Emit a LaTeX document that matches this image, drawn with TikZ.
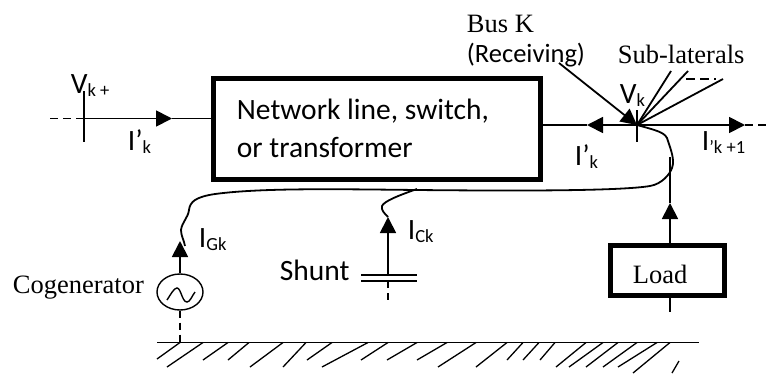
\documentclass[tikz,border=0pt]{standalone}
\usepackage{fontspec}
\setmainfont{Carlito}
\newfontfamily\timesfont{Liberation Serif}
\usetikzlibrary{arrows.meta,shapes.geometric}
\newcommand{\subtxt}[1]{\raisebox{-3pt}{\fontsize{18.5}{18.5}\selectfont #1}}

\begin{document}
\begin{tikzpicture}[x=1pt,y=-1pt,line width=1.8pt,>={Triangle[length=16pt,width=16pt]},
    box/.style={draw=black,line width=5pt,inner sep=0pt,rectangle},
    lbl/.style={anchor=base west,inner sep=0pt,font=\fontsize{29.5}{29.5}\selectfont},
    serif/.style={anchor=base west,inner sep=0pt,font=\timesfont\fontsize{26.5}{26.5}\selectfont}]
                \useasboundingbox (0,0) rectangle (773,373);
                % boxes and sources
                \node[box,minimum width=327pt,minimum height=101pt](Line)at(377, 129){};
                \node[box,minimum width=114pt,minimum height=50pt](Load)at(667.5, 270.5){};
                \node[draw=black,ellipse,line width=1.4pt,minimum width=46pt,minimum height=36pt,inner sep=0pt](Gen)at(180, 292){};
                % text
                \node[lbl](LineText)at(236, 119){Network line, switch,};
                \node[lbl](LineText2)at(236, 157){or transformer};
                \node[serif](LoadText)at(632, 283){Load};
                \node[serif](GenText)at(12, 293){Cogenerator};
                \node[lbl](ShuntText)at(279, 280){Shunt};
                \node[serif](BusText)at(466, 32){Bus K};
                \node[lbl,font=\fontsize{26.5}{26.5}\selectfont](RecvText)at(466, 62){(Receiving)};
                \node[serif](SubText)at(617, 63){Sub-laterals};
                \node[lbl](VkpText)at(70, 93){V\subtxt{k +}};
                \node[lbl](VkText)at(619, 103){V\subtxt{k}};
                \node[lbl](IkLeft)at(127, 150){I’\subtxt{k}};
                \node[lbl](IkRight)at(574, 165){I’\subtxt{k}};
                \node[lbl](IkNext)at(701, 150){I\subtxt{’k +1}};
                \node[lbl](IGk)at(198, 247){I\subtxt{Gk}};
                \node[lbl](ICk)at(407, 239){I\subtxt{Ck}};
                % bus points
                \coordinate(BusA)at(84, 118.5);
                \coordinate(BusATop)at(84, 91);
                \coordinate(BusABot)at(84, 142);
                \coordinate(DashA)at(50, 118.5);
                \coordinate(TipA)at(172, 118.5);
                \coordinate(BusK)at(637, 125);
                \coordinate(BusKTop)at(637, 110);
                \coordinate(BusKBot)at(637, 142);
                \coordinate(TipB)at(587, 125);
                \coordinate(TipC)at(745, 125);
                \coordinate(DashC)at(770, 125);
                \coordinate(BusFrom)at(559, 63);
                \coordinate(Sub1)at(671, 71);
                \coordinate(Sub2)at(688, 71);
                \coordinate(Sub3)at(723, 79);
                \coordinate(SubDash1)at(686, 79);
                \coordinate(SubDash2)at(716, 79);
                \coordinate(LoadIn)at(670, 157);
                \coordinate(LoadTip)at(670, 203);
                \coordinate(LoadBot)at(670, 312);
                \coordinate(GenTip)at(180, 241);
                \coordinate(ShuntTip)at(388, 217);
                \coordinate(ShuntUp)at(388, 275);
                \coordinate(ShuntDown)at(388, 281);
                \coordinate(ShuntEnd)at(388, 302);
                \coordinate(Plate1L)at(361, 275);
                \coordinate(Plate1R)at(417, 275);
                \coordinate(Plate2L)at(361, 281);
                \coordinate(Plate2R)at(417, 281);
                \coordinate(GndL)at(157, 342.5);
                \coordinate(GndR)at(699, 342.5);
                \coordinate(GenGnd)at(180, 342.5);
                \coordinate(WireEnd)at(185, 246);
                \coordinate(WireJoin)at(417, 189);
                % connectors
                \draw[dashed,dash pattern=on 8pt off 5pt](DashA)--(BusA);
                \draw(BusATop)--(BusABot);
                \draw[->](BusA)--(TipA);
                \draw(TipA)--(Line.west |- TipA);
                \draw(BusKTop)--(BusKBot);
                \draw[->](BusK)--(TipB);
                \draw(TipB)--(Line.east |- TipB);
                \draw[->](BusK)--(TipC);
                \draw[dashed,dash pattern=on 8pt off 5pt](TipC)--(DashC);
                \draw[->](BusFrom)--(BusK);
                \draw(BusK)--(Sub1);
                \draw(BusK)--(Sub2);
                \draw(BusK)--(Sub3);
                \draw[dashed,dash pattern=on 9pt off 5pt](SubDash1)--(SubDash2);
                \draw(LoadTip)--(LoadIn);
                \draw[->](Load.north -| LoadTip)--(LoadTip);
                \draw(Load.south -| LoadBot)--(LoadBot);
                \draw[->](Gen.north)--(GenTip);
                \draw[dashed,dash pattern=on 7pt off 5pt](Gen.south)--(GenGnd);
                \draw[->](ShuntUp)--(ShuntTip);
                \draw[dashed,dash pattern=on 7pt off 5pt](ShuntDown)--(ShuntEnd);
                \draw(Plate1L)--(Plate1R);
                \draw(Plate2L)--(Plate2R);
                \draw(GndL)--(GndR);
                % wires
                \draw(BusK) .. controls (655,130) and (664,132) .. (667,138)
                    .. controls (671,150) and (675,160) .. (672,168)
                    .. controls (670,174) and (662,184) .. (650,186)
                    .. controls (620,191) and (520,191) .. (417,190)
                    .. controls (330,189) and (260,188) .. (215,194)
                    .. controls (195,197) and (190,202) .. (189,210)
                    .. controls (188,218) and (182,222) .. (181,230)
                    .. controls (181,236) and (184,240) .. (WireEnd);
                \draw(ShuntTip) .. controls (384,213) and (381,210) .. (382,206)
                    .. controls (384,201) and (400,195) .. (WireJoin);
                % sine in the source
                \draw[line width=1.4pt](167,300) .. controls (171,294) and (174,288) .. (177,288)
                    .. controls (181,288) and (182,302) .. (187,302) .. controls (190,302) and (192,296) .. (195,292);
                % ground hatching
                \foreach \xa/\xb/\yb in {180/157/359,203/167/367,228/203/360,249/228/360,283/250/367,306/283/367,
                    332/307/360,368/322/367,388/361/360,417/387/360,447/417/360,476/438/367,507/476/367,
                    523/507/360,539/523/360,555/540/360,586/556/367,603/569/367,618/586/367,637/603/367,
                    657/618/367,670/633/373}
                    \draw[line width=1.3pt](\xa,342.5)--(\xb,\yb);
                \draw[line width=1.3pt](679,361)--(672,373);
            \end{tikzpicture}
\end{document}
